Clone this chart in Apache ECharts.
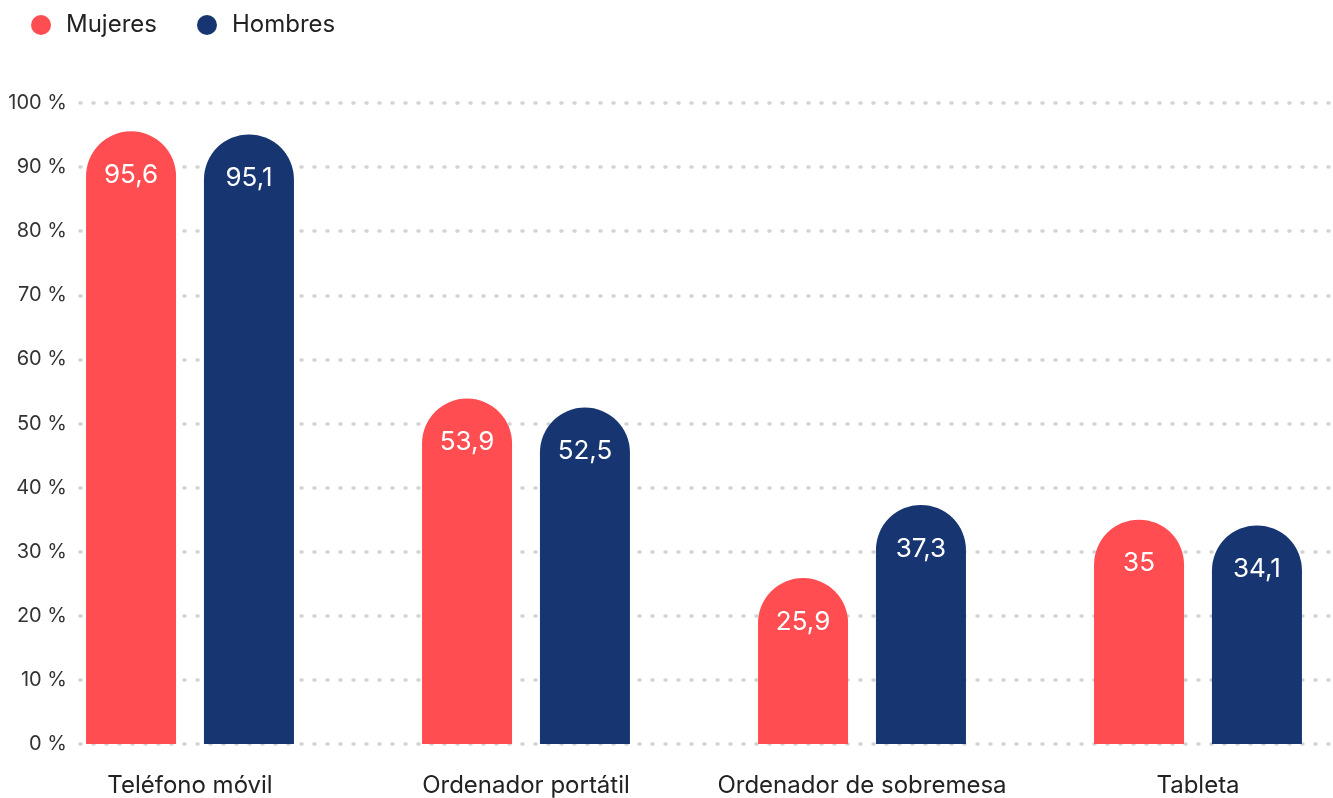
<!DOCTYPE html>
<html><head><meta charset="utf-8">
<script src="https://cdn.jsdelivr.net/npm/echarts@6/dist/echarts.min.js"></script>
<style>html,body{margin:0;padding:0;background:#fff}#c{width:1333px;height:798px}</style>
</head><body><div id="c"></div>
<script>
const categories = ['Teléfono móvil', 'Ordenador portátil', 'Ordenador de sobremesa', 'Tableta'];
const mujeres = [95.6, 53.9, 25.9, 35];
const hombres = [95.1, 52.5, 37.3, 34.1];
const seriesNames = ['Mujeres', 'Hombres'];
const yTicks = [0, 10, 20, 30, 40, 50, 60, 70, 80, 90, 100];

const FONT = 'Inter, "Noto Sans", sans-serif';
const RED = '#FF4D51', NAVY = '#173671';
const chart = echarts.init(document.getElementById('c'));
const fmt = p => String(p.value).replace('.', ',');
const mkSeries = (name, data, color) => ({
  name, type: 'bar', data, xAxisIndex: 1, yAxisIndex: 1,
  barWidth: 90, barGap: '31%',
  itemStyle: { color, borderRadius: [45, 45, 0, 0] },
  label: { show: true, position: 'insideTop', distance: 31, color: '#fff', fontSize: 26, fontFamily: FONT, formatter: fmt }
});
chart.setOption({
  animation: false,
  textStyle: { fontFamily: FONT },
  legend: {
    data: seriesNames, left: 26, top: 8, icon: 'circle', itemWidth: 20, itemHeight: 20, itemGap: 40,
    textStyle: { fontSize: 24, color: '#222', fontFamily: FONT, padding: [0, 0, 0, 10] }
  },
  grid: [
    { left: 80, right: 0, top: 103, bottom: 54, outerBoundsMode: 'none', containLabel: false },
    { left: 22, right: -33, top: 103, bottom: 54, outerBoundsMode: 'none', containLabel: false }
  ],
  xAxis: [
    { gridIndex: 0, type: 'value', show: false },
    { gridIndex: 1, type: 'category', data: categories,
      axisLine: { show: false }, axisTick: { show: false },
      axisLabel: { interval: 0, fontSize: 24, color: '#222', margin: 30, fontFamily: FONT } }
  ],
  yAxis: [
    { gridIndex: 0, type: 'value', min: 0, max: 100, interval: 10,
      axisLine: { show: false }, axisTick: { show: false },
      axisLabel: { fontSize: 20, color: '#333', margin: 13, fontFamily: FONT, formatter: v => yTicks.includes(v) ? v + ' %' : '' },
      splitLine: { lineStyle: { type: [1, 12], width: 3.5, color: '#d3d3d3', cap: 'round' } } },
    { gridIndex: 1, type: 'value', min: 0, max: 100, show: false, splitLine: { show: false } }
  ],
  series: [
    mkSeries(seriesNames[0], mujeres, RED),
    mkSeries(seriesNames[1], hombres, NAVY)
  ]
});
</script></body></html>
